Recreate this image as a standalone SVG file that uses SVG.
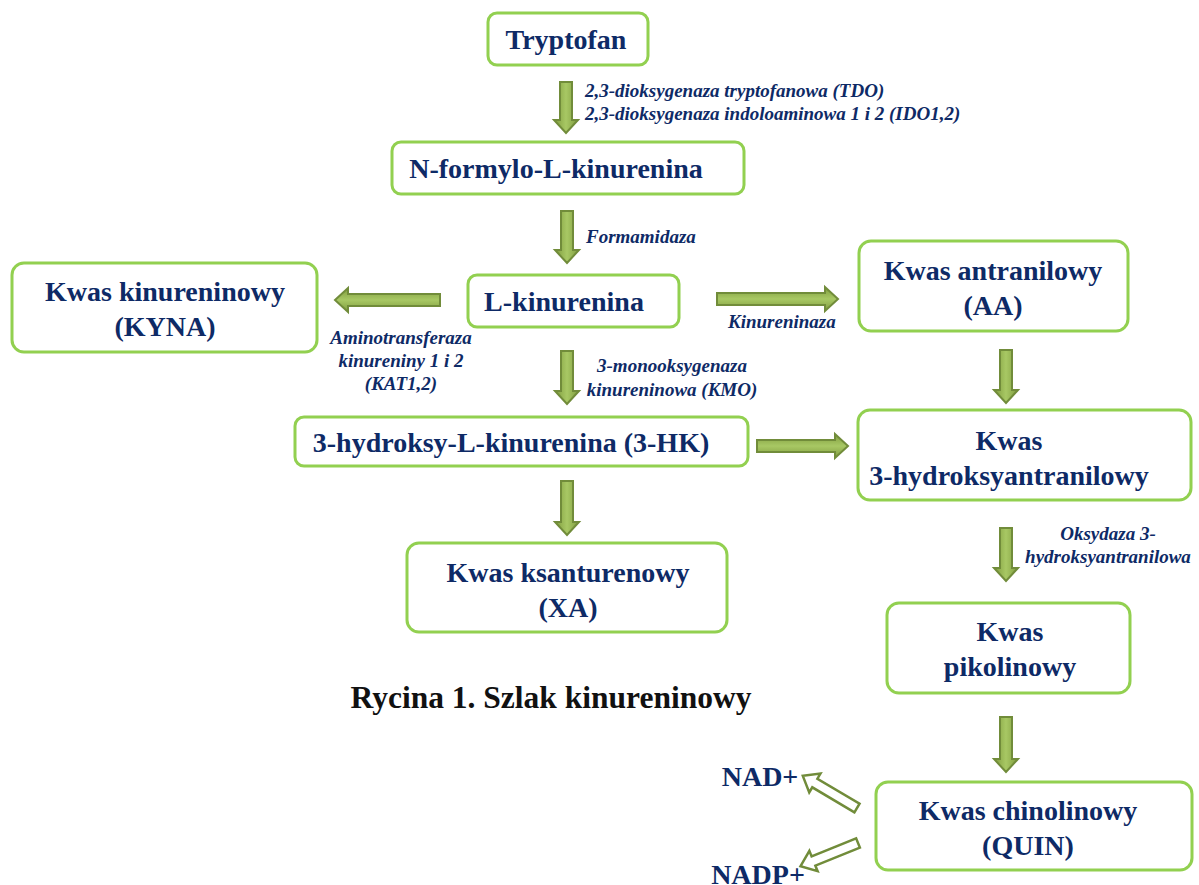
<svg xmlns="http://www.w3.org/2000/svg" width="1199" height="885" viewBox="0 0 1199 885">
<style>
.box{fill:#fff;stroke:#92d050;stroke-width:3}
.t{font-family:"Liberation Serif",serif;font-weight:bold;font-size:28px;fill:#0e2a66;text-anchor:middle}
.l{font-family:"Liberation Serif",serif;font-weight:bold;font-style:italic;font-size:19px;fill:#0e2a66}
.c{text-anchor:middle}
.av{fill:url(#gv);stroke:#718c3a;stroke-width:2;stroke-linejoin:miter}
.ah{fill:url(#gh);stroke:#718c3a;stroke-width:2;stroke-linejoin:miter}
.ao{fill:#fff;stroke:#718c3a;stroke-width:2.5}
.cap{font-family:"Liberation Serif",serif;font-weight:bold;font-size:31.5px;fill:#111;text-anchor:middle}
</style>
<defs>
<linearGradient id="gv" x1="0" y1="0" x2="1" y2="0"><stop offset="0" stop-color="#7f9c3e"/><stop offset="0.5" stop-color="#a8c864"/><stop offset="1" stop-color="#7f9c3e"/></linearGradient>
<linearGradient id="gh" x1="0" y1="0" x2="0" y2="1"><stop offset="0" stop-color="#7f9c3e"/><stop offset="0.5" stop-color="#a8c864"/><stop offset="1" stop-color="#7f9c3e"/></linearGradient>
</defs>
<rect width="1199" height="885" fill="#fff"/>
<g id="connectors">
<path class="av" d="M560,82H572V120H578L566,133L554,120H560Z"/>
<path class="av" d="M561,211H573V250H579L567,263L555,250H561Z"/>
<path class="av" d="M561,351H573V391H579L567,404L555,391H561Z"/>
<path class="av" d="M561,481H573V522H579L567,535L555,522H561Z"/>
<path class="av" d="M1000,350H1012V390H1018L1006,403L994,390H1000Z"/>
<path class="av" d="M1000,528H1012V568H1018L1006,581L994,568H1000Z"/>
<path class="av" d="M1000,717H1012V759H1018L1006,772L994,759H1000Z"/>
<path class="ah" d="M440,294V306H348V312L335,300L348,288V294Z"/>
<path class="ah" d="M717,293V305H825V311L838,299L825,287V293Z"/>
<path class="ah" d="M757,440V452H835V458L848,446L835,434V440Z"/>
<path class="ao" transform="translate(857,808) rotate(-149.35)" d="M0,-5H49V-11L63,0L49,11V5H0Z"/>
<path class="ao" transform="translate(858,843) rotate(158)" d="M0,-5H48V-11L62,0L48,11V5H0Z"/>
</g>
<g id="labels">
<text class="l" x="585" y="97">2,3-dioksygenaza tryptofanowa (TDO)</text>
<text class="l" x="585" y="120">2,3-dioksygenaza indoloaminowa 1 i 2 (IDO1,2)</text>
<text class="l" x="586" y="243">Formamidaza</text>
<text class="l" x="728" y="328">Kinureninaza</text>
<text class="l c" x="401" y="344">Aminotransferaza</text>
<text class="l c" x="401" y="367">kinureniny 1 i 2</text>
<text class="l c" x="401" y="390">(KAT1,2)</text>
<text class="l c" x="672" y="372">3-monooksygenaza</text>
<text class="l c" x="672" y="396">kinureninowa (KMO)</text>
<text class="l c" x="1108" y="540">Oksydaza 3-</text>
<text class="l c" x="1108" y="563">hydroksyantranilowa</text>
</g>
<g id="n-tryptofan"><rect class="box" x="488" y="13" width="160" height="52" rx="9"/><text class="t" x="566" y="49">Tryptofan</text></g>
<g id="n-nformylo"><rect class="box" x="392" y="142" width="352" height="52" rx="9"/><text class="t" x="556" y="178">N-formylo-L-kinurenina</text></g>
<g id="n-lkyn"><rect class="box" x="468" y="275" width="211" height="52" rx="9"/><text class="t" x="564" y="311">L-kinurenina</text></g>
<g id="n-kyna"><rect class="box" x="12" y="263" width="305" height="89" rx="12"/><text class="t" x="165" y="301">Kwas kinureninowy</text><text class="t" x="165" y="336">(KYNA)</text></g>
<g id="n-aa"><rect class="box" x="859" y="241" width="269" height="90" rx="12"/><text class="t" x="993" y="280">Kwas antranilowy</text><text class="t" x="993" y="315">(AA)</text></g>
<g id="n-3hk"><rect class="box" x="295" y="417" width="453" height="49" rx="9"/><text class="t" x="511" y="452">3-hydroksy-L-kinurenina (3-HK)</text></g>
<g id="n-3haa"><rect class="box" x="858" y="410" width="333" height="90" rx="12"/><text class="t" x="1009" y="450">Kwas</text><text class="t" x="1009" y="485">3-hydroksyantranilowy</text></g>
<g id="n-xa"><rect class="box" x="407" y="543" width="320" height="89" rx="12"/><text class="t" x="568" y="582">Kwas ksanturenowy</text><text class="t" x="568" y="617">(XA)</text></g>
<g id="n-pik"><rect class="box" x="887" y="603" width="243" height="90" rx="12"/><text class="t" x="1010" y="641">Kwas</text><text class="t" x="1010" y="676">pikolinowy</text></g>
<g id="n-quin"><rect class="box" x="876" y="782" width="316" height="88" rx="12"/><text class="t" x="1028" y="820">Kwas chinolinowy</text><text class="t" x="1028" y="855">(QUIN)</text></g>
<g id="n-nad"><text class="t" x="760" y="786">NAD+</text></g>
<g id="n-nadp"><text class="t" x="758" y="884">NADP+</text></g>
<text class="cap" x="551" y="708">Rycina 1. Szlak kinureninowy</text>
</svg>
